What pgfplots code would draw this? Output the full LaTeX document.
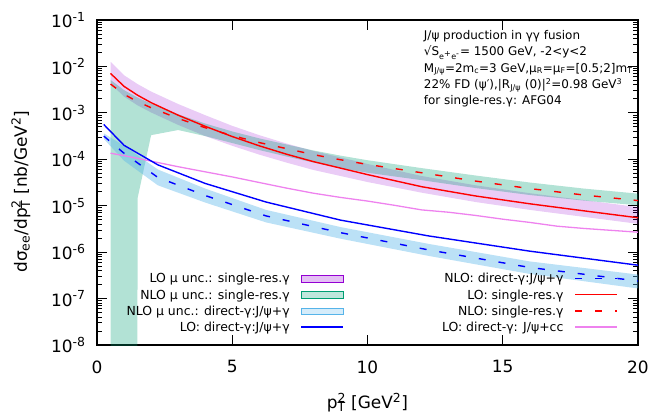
\documentclass[border=0pt]{standalone}
\usepackage{fontspec}
\setmainfont{DejaVu Sans}
\usepackage{pgfplots}
\pgfplotsset{compat=1.18}
\definecolor{purp}{RGB}{148,0,211}
\definecolor{grn}{RGB}{0,158,115}
\definecolor{skyb}{RGB}{86,180,233}
\definecolor{pinkl}{RGB}{238,130,238}
\tikzset{dsh/.style={dash pattern=on 7bp off 13bp}}
% small sub/superscripts (annotation size) and large ones (label size)
\newcommand\Sb[1]{\textsubscript{\fontsize{8}{8}\selectfont #1}}
\newcommand\Sp[1]{\textsuperscript{\fontsize{8}{8}\selectfont #1}}
\newcommand\LSb[1]{\textsubscript{\fontsize{12.5}{12}\selectfont #1}}
\newcommand\LSp[1]{\textsuperscript{\fontsize{12.5}{12}\selectfont #1}}
\newcommand\tl[1]{10\LSp{#1}}
\pgfplotsset{
  bandimg/.style={legend image code/.code={\draw[#1, fill=#1!25, line width=0.8bp] (0bp,-3.3bp) rectangle (42bp,3.3bp);}},
  lineimg/.style={legend image code/.code={\draw[#1] (0bp,0.5bp) -- (42bp,0.5bp);}},
}
\begin{document}
\begin{tikzpicture}
\begin{axis}[
  scale only axis, width=541bp, height=325bp,
  xmin=0, xmax=20, ymin=1e-8, ymax=1e-1, ymode=log,
  xtick={0,5,10,15,20}, minor x tick num=0,
  ytick={1e-8,1e-7,1e-6,1e-5,1e-4,1e-3,1e-2,1e-1},
  yticklabels={\tl{-8},\tl{-7},\tl{-6},\tl{-5},\tl{-4},\tl{-3},\tl{-2},\tl{-1}},
  minor ytick={2e-8,3e-8,4e-8,5e-8,6e-8,7e-8,8e-8,9e-8,
               2e-7,3e-7,4e-7,5e-7,6e-7,7e-7,8e-7,9e-7,
               2e-6,3e-6,4e-6,5e-6,6e-6,7e-6,8e-6,9e-6,
               2e-5,3e-5,4e-5,5e-5,6e-5,7e-5,8e-5,9e-5,
               2e-4,3e-4,4e-4,5e-4,6e-4,7e-4,8e-4,9e-4,
               2e-3,3e-3,4e-3,5e-3,6e-3,7e-3,8e-3,9e-3,
               2e-2,3e-2,4e-2,5e-2,6e-2,7e-2,8e-2,9e-2},
  /pgf/number format/assume math mode=true,
  tick label style={font=\fontsize{17}{20}\selectfont},
  xticklabel shift=12bp, yticklabel shift=8bp,
  tick align=inside, major tick length=10bp, minor tick length=5bp,
  axis line style={line width=1.2bp},
  every tick/.style={black, line width=0.9bp},
  label style={font=\fontsize{17}{20}\selectfont},
  xlabel={p\rlap{\LSp{2}}\LSb{T} [GeV\LSp{2}]},
  ylabel={dσ\LSb{ee}/dp\rlap{\LSp{2}}\LSb{T} [nb/GeV\LSp{2}]},
  xlabel style={at={(axis description cs:0.5,-0.178)}, anchor=center},
  ylabel style={at={(axis description cs:-0.1405,0.472)}, anchor=center},
  legend plot pos=right, legend columns=2, legend cell align=right,
  legend style={draw=none, fill=none, at={(rel axis cs:0.963,0.03)}, anchor=south east,
    font=\fontsize{12.5}{14}\selectfont, inner sep=0pt, column sep=9bp, row sep=1.3bp,
    /tikz/every even column/.append style={column sep=96bp}},
]
% LO mu uncertainty band, single-resolved
\addplot[forget plot, draw=none, fill=purp, fill opacity=0.2] coordinates {
 (0.5,1.26e-2) (1,6.46e-3) (1.5,4.17e-3) (2,2.88e-3) (3,1.55e-3) (4,8.91e-4) (5,5.25e-4)
 (6,3.31e-4) (7,2.19e-4) (8,1.51e-4) (9,1.10e-4) (10,7.94e-5) (12,4.37e-5) (14,2.75e-5)
 (16,1.86e-5) (18,1.32e-5) (20,9.33e-6)
 (20,4.07e-6) (18,5.75e-6) (16,8.13e-6) (14,1.20e-5) (12,1.91e-5) (10,3.24e-5) (9,4.37e-5)
 (8,5.89e-5) (7,8.51e-5) (6,1.26e-4) (5,1.95e-4) (4,3.16e-4) (3,5.50e-4) (2,1.02e-3)
 (1.5,1.45e-3) (1,2.24e-3) (0.5,4.27e-3)} --cycle;
% NLO mu uncertainty band, single-resolved
\addplot[forget plot, draw=none, fill=grn, fill opacity=0.3] coordinates {
 (0.5,5.13e-3) (1,3.09e-3) (1.5,2.14e-3) (2,1.58e-3) (3,9.33e-4) (4,5.89e-4) (5,3.98e-4)
 (6,2.82e-4) (7,2.09e-4) (8,1.55e-4) (9,1.20e-4) (10,9.55e-5) (12,6.46e-5) (14,4.47e-5)
 (16,3.16e-5) (18,2.34e-5) (20,1.82e-5)
 (20,1.02e-5) (18,1.29e-5) (16,1.70e-5) (14,2.40e-5) (12,3.55e-5) (10,5.13e-5) (9,6.46e-5)
 (8,8.51e-5) (7,1.15e-4) (6,1.58e-4) (5,2.24e-4) (4,3.16e-4) (3,4.27e-4) (2,3.31e-4)
 (1.5,1.45e-5) (1.49,1e-12) (0.5,1e-12)} --cycle;
% NLO mu uncertainty band, direct
\addplot[forget plot, draw=none, fill=skyb, fill opacity=0.4] coordinates {
 (0.25,3.63e-4) (1,1.95e-4) (2.25,6.03e-5) (4,2.34e-5) (6.25,8.13e-6) (9,3.47e-6)
 (12.25,1.51e-6) (16,6.31e-7) (20.25,3.16e-7)
 (20.25,1.58e-7) (16,3.39e-7) (12.25,8.32e-7) (9,1.95e-6) (6.25,4.37e-6) (4,1.17e-5)
 (2.25,2.75e-5) (1,9.33e-5) (0.25,2.75e-4)} --cycle;
% LO direct J/psi+cc
\addplot[forget plot, pinkl, line width=1.3bp] coordinates {
 (0.5,1.35e-4) (1,1.20e-4) (2,9.12e-5) (3,6.92e-5) (4,5.37e-5) (5,4.17e-5) (6,3.16e-5)
 (7,2.40e-5) (8,1.86e-5) (9,1.51e-5) (10,1.26e-5) (11,1.02e-5) (12,8.13e-6) (13,7.24e-6)
 (14,6.17e-6) (15,5.13e-6) (16,4.37e-6) (17,3.63e-6) (18,3.24e-6) (19,2.95e-6) (20,2.69e-6)};
% LO direct J/psi+gamma
\addplot[forget plot, blue, line width=1.4bp] coordinates {
 (0.25,5.62e-4) (1,2.00e-4) (2.25,7.59e-5) (4,3.02e-5) (6.25,1.20e-5) (9,4.90e-6)
 (12.25,2.24e-6) (16,1.05e-6) (20.25,5.01e-7)};
% NLO direct J/psi+gamma
\addplot[forget plot, blue, line width=1.4bp, dsh] coordinates {
 (0.25,3.16e-4) (1,1.35e-4) (2.25,4.07e-5) (4,1.66e-5) (6.25,6.03e-6) (9,2.63e-6)
 (12.25,1.12e-6) (16,4.68e-7) (20.25,2.29e-7)};
% LO single-resolved
\addplot[forget plot, red, line width=1.4bp] coordinates {
 (0.5,7.08e-3) (1,3.72e-3) (1.5,2.40e-3) (2,1.66e-3) (3,8.91e-4) (4,5.13e-4) (5,3.09e-4)
 (6,1.95e-4) (7,1.29e-4) (8,8.91e-5) (9,6.46e-5) (10,4.68e-5) (12,2.57e-5) (14,1.62e-5)
 (16,1.10e-5) (18,7.76e-6) (20,5.50e-6)};
% NLO single-resolved
\addplot[forget plot, red, line width=1.4bp, dsh] coordinates {
 (0.5,4.17e-3) (1,2.51e-3) (1.5,1.74e-3) (2,1.29e-3) (3,7.59e-4) (4,4.79e-4) (5,3.24e-4)
 (6,2.29e-4) (7,1.70e-4) (8,1.26e-4) (9,9.77e-5) (10,7.76e-5) (12,5.13e-5) (14,3.39e-5)
 (16,2.34e-5) (18,1.70e-5) (20,1.29e-5)};
% legend
\addlegendimage{bandimg=purp}
\addlegendentry{LO μ unc.: single-res.γ}
\addlegendimage{lineimg={blue, line width=1.4bp, dsh}}
\addlegendentry{NLO: direct-γ:J/ψ+γ}
\addlegendimage{bandimg=grn}
\addlegendentry{NLO μ unc.: single-res.γ}
\addlegendimage{lineimg={red, line width=1.4bp}}
\addlegendentry{LO: single-res.γ}
\addlegendimage{bandimg=skyb}
\addlegendentry{NLO μ unc.: direct-γ:J/ψ+γ}
\addlegendimage{lineimg={red, line width=1.4bp, dsh}}
\addlegendentry{NLO: single-res.γ}
\addlegendimage{lineimg={blue, line width=1.4bp}}
\addlegendentry{LO: direct-γ:J/ψ+γ}
\addlegendimage{lineimg={pinkl, line width=1.4bp}}
\addlegendentry{LO: direct-γ: J/ψ+cc}
\node[anchor=north west, align=left, inner sep=0pt, font=\fontsize{12}{16.3}\selectfont]
  at (rel axis cs:0.604,0.968) {J/ψ production in γγ fusion\\
  √S\Sb{e\Sp{+}e\Sp{-}}= 1500 GeV, -2<y<2\\
  M\Sb{J/ψ}=2m\Sb{c}=3 GeV,μ\Sb{R}=μ\Sb{F}=[0.5;2]m\Sb{T}\\
  22\% FD (ψ′),|R\Sb{J/ψ} (0)|\Sp{2}=0.98 GeV\Sp{3}\\
  for single-res.γ: AFG04};
\end{axis}
\pgfresetboundingbox
\path[use as bounding box] (current axis.south west) ++(-97bp,-74bp) rectangle ++(656bp,419bp);
\end{tikzpicture}
\end{document}
